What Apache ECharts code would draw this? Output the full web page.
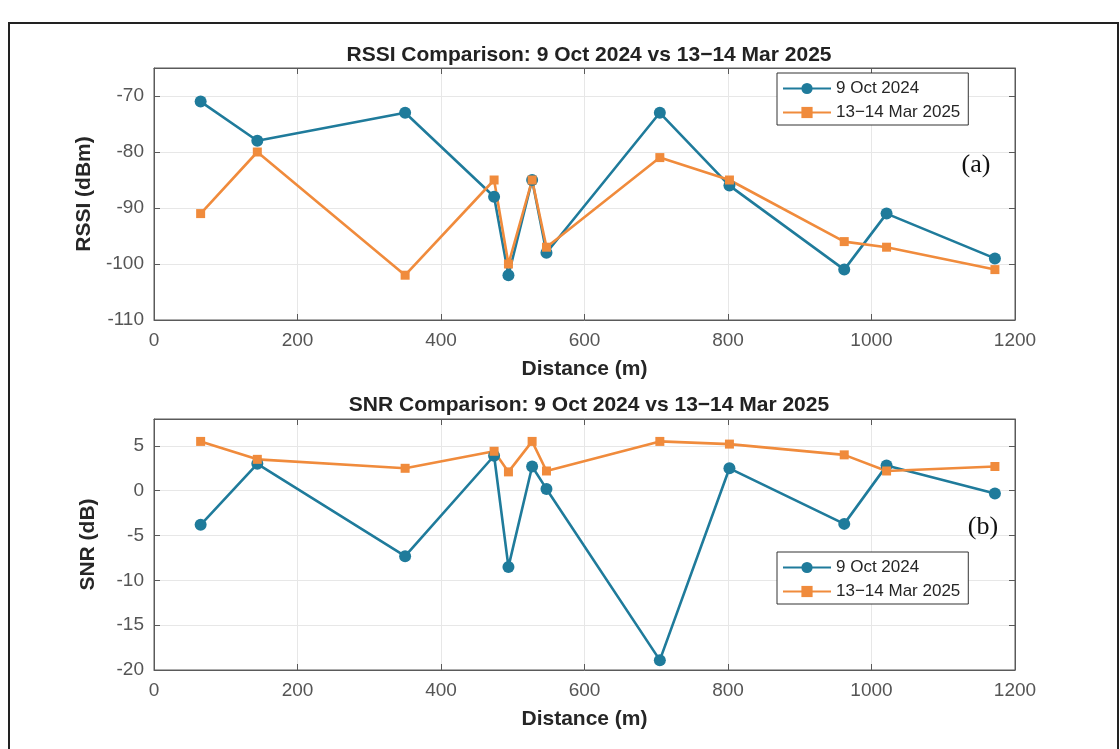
<!DOCTYPE html>
<html>
<head>
<meta charset="utf-8">
<script src="https://cdn.jsdelivr.net/npm/echarts@6/dist/echarts.min.js"></script>
<style>
html,body{margin:0;padding:0;background:#fff;}
#chart{width:1120px;height:749px;}
</style>
</head>
<body>
<div id="chart"></div>
<script>
// ---- data ----
const distance = [65, 144, 350, 474, 494, 527, 547, 705, 802, 962, 1021, 1172];
const rssiOct2024 = [-71, -78, -73, -88, -102, -85, -98, -73, -86, -101, -91, -99];
const rssiMar2025 = [-91, -80, -102, -85, -100, -85, -97, -81, -85, -96, -97, -101];
const snrOct2024 = [-3.8, 3.0, -7.3, 3.9, -8.5, 2.7, 0.2, -18.9, 2.5, -3.7, 2.8, -0.3];
const snrMar2025 = [5.5, 3.5, 2.5, 4.4, 2.1, 5.5, 2.2, 5.5, 5.2, 4.0, 2.2, 2.7];
const seriesNames = ['9 Oct 2024', '13\u221214 Mar 2025'];
const titles = ['RSSI Comparison: 9 Oct 2024 vs 13\u221214 Mar 2025', 'SNR Comparison: 9 Oct 2024 vs 13\u221214 Mar 2025'];
const xName = 'Distance (m)';
const yNames = ['RSSI (dBm)', 'SNR (dB)'];
const panelLabels = ['(a)', '(b)'];

const BLUE = '#1f7b9b';
const ORANGE = '#f08b3c';
const AXIS = '#5a5a5a';
const GRIDC = '#e7e7e7';
const FONT = '"Liberation Sans", Arial, sans-serif';

function pair(a) { return distance.map((d, i) => [d, a[i]]); }
const plainNum = v => String(v);

function xAxisMain(gi) {
  return {
    type: 'value', gridIndex: gi, min: 0, max: 1200, interval: 200,
    name: xName, nameLocation: 'middle', nameGap: 39,
    nameTextStyle: { fontFamily: FONT, fontSize: 21, fontWeight: 'bold', color: '#262626' },
    axisLine: { show: true, onZero: false, lineStyle: { color: AXIS, width: 1 } },
    axisTick: { show: true, inside: true, length: 6, lineStyle: { color: AXIS } },
    axisLabel: { fontFamily: FONT, fontSize: 19, color: '#555', margin: 11, formatter: plainNum },
    splitLine: { show: true, lineStyle: { color: GRIDC, width: 1 } }
  };
}
function xAxisTop(gi) {
  return {
    type: 'value', gridIndex: gi, min: 0, max: 1200, interval: 200, position: 'top',
    axisLine: { show: true, onZero: false, lineStyle: { color: AXIS, width: 1 } },
    axisTick: { show: true, inside: true, length: 6, lineStyle: { color: AXIS } },
    axisLabel: { show: false }, splitLine: { show: false }
  };
}
function yAxisMain(gi, min, max, interval, name) {
  return {
    type: 'value', gridIndex: gi, min: min, max: max, interval: interval,
    name: name, nameLocation: 'middle', nameGap: 55, nameRotate: 90,
    nameTextStyle: { fontFamily: FONT, fontSize: 21, fontWeight: 'bold', color: '#262626' },
    axisLine: { show: true, onZero: false, lineStyle: { color: AXIS, width: 1 } },
    axisTick: { show: true, inside: true, length: 6, lineStyle: { color: AXIS } },
    axisLabel: { fontFamily: FONT, fontSize: 19, color: '#555', margin: 10, showMaxLabel: false, formatter: plainNum },
    splitLine: { show: true, lineStyle: { color: GRIDC, width: 1 } }
  };
}
function yAxisRight(gi, min, max, interval) {
  return {
    type: 'value', gridIndex: gi, min: min, max: max, interval: interval, position: 'right',
    axisLine: { show: true, onZero: false, lineStyle: { color: AXIS, width: 1 } },
    axisTick: { show: true, inside: true, length: 6, lineStyle: { color: AXIS } },
    axisLabel: { show: false }, splitLine: { show: false }
  };
}

function lineSeries(name, data, xi, yi, color, symbol, size) {
  return {
    name: name, type: 'line', xAxisIndex: xi, yAxisIndex: yi, data: data,
    symbol: symbol, symbolSize: size, showSymbol: true,
    lineStyle: { color: color, width: 2.6 },
    itemStyle: { color: color, borderWidth: 0 },
    animation: false
  };
}

function legend(top) {
  return {
    orient: 'vertical', left: 777, top: top,
    padding: [7, 8, 4, 5], itemGap: 7, itemWidth: 48, itemHeight: 14,
    backgroundColor: '#fff', borderColor: '#333', borderWidth: 1,
    textStyle: { fontFamily: FONT, fontSize: 17, color: '#262626' },
    data: seriesNames
  };
}

const option = {
  backgroundColor: '#fff',
  animation: false,
  title: [
    { text: titles[0], left: 584, textAlign: 'center', top: 40,
      textStyle: { fontFamily: FONT, fontSize: 21, fontWeight: 'bold', color: '#222' } },
    { text: titles[1], left: 584, textAlign: 'center', top: 390,
      textStyle: { fontFamily: FONT, fontSize: 21, fontWeight: 'bold', color: '#222' } }
  ],
  grid: [
    { left: 154, top: 68, width: 861, height: 252, show: true, borderColor: AXIS, borderWidth: 1, backgroundColor: '#fff' },
    { left: 154, top: 419, width: 861, height: 251, show: true, borderColor: AXIS, borderWidth: 1, backgroundColor: '#fff' }
  ],
  xAxis: [xAxisMain(0), xAxisMain(1), xAxisTop(0), xAxisTop(1)],
  yAxis: [yAxisMain(0, -110, -65, 10, yNames[0]), yAxisMain(1, -20, 8, 5, yNames[1]),
          yAxisRight(0, -110, -65, 10), yAxisRight(1, -20, 8, 5)],
  legend: [legend(73), legend(552)],
  series: [
    lineSeries(seriesNames[0], pair(rssiOct2024), 0, 0, BLUE, 'circle', 12),
    lineSeries(seriesNames[1], pair(rssiMar2025), 0, 0, ORANGE, 'rect', 9),
    lineSeries(seriesNames[0], pair(snrOct2024), 1, 1, BLUE, 'circle', 12),
    lineSeries(seriesNames[1], pair(snrMar2025), 1, 1, ORANGE, 'rect', 9)
  ],
  graphic: [
    { type: 'rect', shape: { x: 9, y: 23, width: 1109, height: 740 }, silent: true, z: -10,
      style: { fill: 'none', stroke: '#222', lineWidth: 2 } },
    { type: 'text', x: 976, y: 165, z: 100,
      style: { text: panelLabels[0], fontFamily: '"Liberation Serif", "Times New Roman", serif', fontSize: 26,
        fill: '#111', align: 'center', verticalAlign: 'middle' } },
    { type: 'text', x: 983, y: 527, z: 100,
      style: { text: panelLabels[1], fontFamily: '"Liberation Serif", "Times New Roman", serif', fontSize: 26,
        fill: '#111', align: 'center', verticalAlign: 'middle' } }
  ]
};

const chart = echarts.init(document.getElementById('chart'), null, { renderer: 'canvas' });
chart.setOption(option);
</script>
</body>
</html>
